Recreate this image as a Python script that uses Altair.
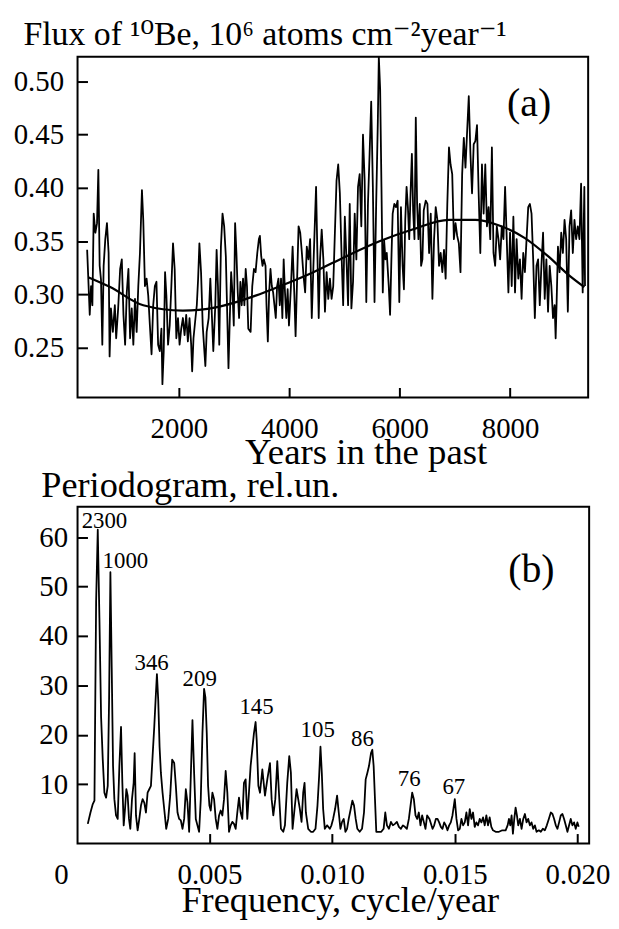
import altair as alt
import pandas as pd

FONT = "Liberation Serif"
TITLE_FONT = "Liberation Serif, DejaVu Serif"

# ---------------- panel (a): flux of 10Be ----------------
years_1 = [337, 384, 408, 432, 456, 486, 516, 540, 564, 588,
           612, 636, 666, 696, 726, 744, 768, 803, 839, 863,
           899, 935, 965, 995, 1025, 1055, 1085, 1115, 1145, 1174,
           1204, 1234, 1264, 1294, 1330, 1354, 1384, 1414, 1444, 1474,
           1504, 1534, 1564, 1593, 1623, 1653, 1683, 1701, 1725, 1749,
           1773, 1803, 1833, 1863, 1893, 1923, 1953, 1983, 2012, 2042,
           2072, 2102, 2132, 2162, 2192, 2222, 2240, 2264, 2300, 2324,
           2348, 2371, 2401, 2431, 2461, 2479, 2503, 2539, 2569, 2599,
           2623, 2659, 2683, 2707, 2731, 2761, 2790, 2820, 2850, 2880,
           2898, 2922, 2946, 2970, 2994, 3018, 3042, 3066, 3090, 3114,
           3138, 3162, 3186, 3210, 3233, 3257, 3299, 3329, 3359, 3389]
flux_1 = [0.342, 0.281, 0.308, 0.290, 0.376, 0.358, 0.367, 0.417, 0.327, 0.314,
          0.253, 0.327, 0.352, 0.367, 0.339, 0.242, 0.287, 0.265, 0.290, 0.259,
          0.287, 0.324, 0.333, 0.281, 0.253, 0.302, 0.324, 0.259, 0.287, 0.253,
          0.296, 0.265, 0.308, 0.339, 0.398, 0.370, 0.308, 0.315, 0.299, 0.271,
          0.244, 0.290, 0.308, 0.312, 0.253, 0.247, 0.268, 0.216, 0.247, 0.321,
          0.299, 0.253, 0.271, 0.308, 0.348, 0.324, 0.259, 0.278, 0.253, 0.268,
          0.278, 0.262, 0.281, 0.256, 0.278, 0.253, 0.228, 0.259, 0.278, 0.290,
          0.315, 0.348, 0.321, 0.271, 0.247, 0.233, 0.265, 0.278, 0.315, 0.278,
          0.247, 0.290, 0.342, 0.308, 0.253, 0.345, 0.376, 0.364, 0.336, 0.271,
          0.231, 0.278, 0.321, 0.302, 0.271, 0.367, 0.339, 0.302, 0.278, 0.312,
          0.290, 0.315, 0.290, 0.324, 0.308, 0.268, 0.265, 0.308, 0.324, 0.321]

years_2 = [3420, 3449, 3467, 3491, 3515, 3539, 3569, 3587, 3611, 3635,
           3659, 3683, 3707, 3731, 3755, 3779, 3803, 3827, 3850, 3874,
           3898, 3922, 3946, 3970, 3994, 4030, 4060, 4090, 4114, 4138,
           4168, 4198, 4228, 4257, 4287, 4317, 4347, 4377, 4407, 4437,
           4461, 4485, 4509, 4533, 4557, 4587, 4617, 4646, 4676, 4706,
           4736, 4766, 4796, 4826, 4856, 4886, 4916, 4946, 4976, 5006,
           5036, 5065, 5095, 5125, 5155, 5185, 5215, 5245, 5275, 5305,
           5335, 5365, 5395, 5425, 5455, 5484, 5514, 5544, 5574, 5604,
           5622, 5646, 5670, 5694, 5718, 5742, 5766, 5802, 5826, 5850,
           5873, 5903, 5933, 5963, 5993, 6023, 6053, 6077, 6101, 6125,
           6149, 6173, 6197, 6221, 6244, 6268, 6292, 6316, 6340, 6364,
           6388, 6412, 6436, 6472]
flux_2 = [0.339, 0.352, 0.355, 0.336, 0.327, 0.333, 0.327, 0.290, 0.256, 0.302,
          0.324, 0.308, 0.302, 0.290, 0.278, 0.308, 0.315, 0.290, 0.315, 0.278,
          0.333, 0.302, 0.278, 0.305, 0.271, 0.308, 0.345, 0.302, 0.261, 0.308,
          0.364, 0.358, 0.339, 0.318, 0.302, 0.345, 0.333, 0.352, 0.278, 0.327,
          0.364, 0.401, 0.339, 0.278, 0.333, 0.361, 0.333, 0.284, 0.321, 0.296,
          0.315, 0.296, 0.308, 0.358, 0.407, 0.422, 0.395, 0.339, 0.290, 0.373,
          0.333, 0.290, 0.385, 0.287, 0.312, 0.376, 0.333, 0.401, 0.413, 0.364,
          0.450, 0.407, 0.293, 0.385, 0.432, 0.481, 0.401, 0.293, 0.385, 0.462,
          0.523, 0.493, 0.401, 0.302, 0.351, 0.333, 0.339, 0.308, 0.281, 0.333,
          0.376, 0.385, 0.382, 0.388, 0.293, 0.382, 0.327, 0.305, 0.370, 0.401,
          0.382, 0.352, 0.395, 0.432, 0.379, 0.352, 0.466, 0.385, 0.352, 0.385,
          0.327, 0.333, 0.379, 0.388]

years_3 = [6503, 6533, 6563, 6593, 6623, 6653, 6683, 6713, 6743, 6773,
           6803, 6833, 6863, 6893, 6922, 6952, 6982, 7012, 7042, 7072,
           7102, 7132, 7162, 7192, 7222, 7252, 7282, 7311, 7341, 7371,
           7401, 7431, 7461, 7491, 7521, 7551, 7581, 7611, 7641, 7671,
           7700, 7730, 7760, 7790, 7820, 7850, 7880, 7910, 7940, 7970,
           8000, 8030, 8060, 8090, 8119, 8149, 8179, 8209, 8239, 8269,
           8299, 8329, 8359, 8389, 8419, 8449, 8479, 8508, 8538, 8568,
           8598, 8628, 8658, 8688, 8718, 8748, 8778, 8808, 8826, 8844,
           8868, 8897, 8927, 8957, 8987, 9017, 9047, 9077, 9107, 9137,
           9167, 9197, 9227, 9257, 9287, 9316, 9346, 9358]
flux_3 = [0.385, 0.339, 0.376, 0.296, 0.352, 0.382, 0.370, 0.327, 0.339, 0.321,
          0.342, 0.315, 0.385, 0.438, 0.422, 0.413, 0.352, 0.367, 0.355, 0.348,
          0.321, 0.413, 0.447, 0.419, 0.453, 0.486, 0.432, 0.395, 0.441, 0.444,
          0.459, 0.395, 0.339, 0.422, 0.376, 0.422, 0.364, 0.382, 0.352, 0.438,
          0.339, 0.327, 0.364, 0.352, 0.333, 0.364, 0.352, 0.401, 0.352, 0.302,
          0.358, 0.308, 0.373, 0.302, 0.352, 0.315, 0.333, 0.296, 0.339, 0.321,
          0.352, 0.382, 0.385, 0.376, 0.333, 0.278, 0.327, 0.333, 0.290, 0.327,
          0.358, 0.296, 0.333, 0.284, 0.327, 0.308, 0.278, 0.290, 0.259, 0.293,
          0.345, 0.321, 0.358, 0.339, 0.370, 0.352, 0.284, 0.364, 0.379, 0.339,
          0.370, 0.352, 0.364, 0.352, 0.404, 0.302, 0.401, 0.308]

trend_years = [366, 755, 1354, 2072, 2670, 3389, 3838, 4437, 5035, 5634,
               6232, 6893, 7372, 7790, 8269, 8688, 9047, 9347]
trend_flux = [0.316, 0.307, 0.290, 0.285, 0.288, 0.299, 0.308, 0.321, 0.336, 0.350,
              0.361, 0.370, 0.370, 0.365, 0.353, 0.336, 0.319, 0.307]

x_ticks_a = [2000, 4000, 6000, 8000]
y_ticks_a = [0.25, 0.30, 0.35, 0.40, 0.45, 0.50]
panel_a_tag = ["(a)"]
panel_a_tag_year = [8345]
panel_a_tag_flux = [0.4787]

# ---------------- panel (b): periodogram ----------------
freq_1 = [0.000044, 0.000153, 0.000247, 0.000315, 0.000383, 0.000450, 0.000518, 0.000586, 0.000654, 0.000721,
          0.000789, 0.000857, 0.000911, 0.000965, 0.001019, 0.001073, 0.001127, 0.001195, 0.001263, 0.001331,
          0.001398, 0.001452, 0.001507, 0.001561, 0.001615, 0.001669, 0.001723, 0.001777, 0.001845, 0.001913,
          0.001953, 0.002008, 0.002075, 0.002143, 0.002211, 0.002278, 0.002346, 0.002414, 0.002481, 0.002549,
          0.002617, 0.002685, 0.002752, 0.002806, 0.002861, 0.002915, 0.002969, 0.003023, 0.003091, 0.003158,
          0.003240, 0.003321, 0.003402, 0.003483, 0.003565, 0.003632, 0.003700, 0.003768, 0.003835, 0.003903,
          0.003971, 0.004039, 0.004106, 0.004174, 0.004242, 0.004309, 0.004377, 0.004445, 0.004512, 0.004580,
          0.004648, 0.004716, 0.004783, 0.004837, 0.004892, 0.004946, 0.005000, 0.005054, 0.005122, 0.005190,
          0.005257, 0.005325, 0.005393, 0.005460, 0.005528, 0.005596, 0.005663, 0.005731, 0.005799, 0.005867,
          0.005934, 0.006002, 0.006070, 0.006137, 0.006205, 0.006273, 0.006340, 0.006408, 0.006476, 0.006544,
          0.006611, 0.006679, 0.006747, 0.006814, 0.006882]
power_1 = [2.0, 4.3, 6.0, 6.7, 46.9, 61.5, 43.6, 23.6, 15.0, 8.3,
           7.3, 9.7, 27.0, 52.9, 33.6, 13.7, 7.0, 3.7, 3.0, 13.7,
           21.6, 10.3, 1.7, 5.0, 9.0, 7.7, 3.0, 1.0, 7.0, 10.3,
           16.3, 3.7, 0.7, 3.0, 5.7, 7.0, 6.3, 4.3, 8.3, 9.0,
           9.7, 15.7, 21.6, 27.0, 32.3, 27.0, 17.6, 12.3, 8.3, 5.0,
           1.0, 3.0, 7.7, 15.0, 14.3, 9.7, 4.3, 3.0, 2.7, 1.0,
           3.0, 9.0, 6.3, 0.4, 11.7, 23.0, 12.3, 3.0, 1.7, 0.4,
           7.0, 20.3, 29.3, 27.6, 20.3, 9.7, 5.7, 4.7, 8.3, 7.0,
           3.0, 1.0, 3.7, 4.7, 3.7, 7.0, 12.7, 8.3, 0.4, 1.7,
           2.4, 2.0, 1.0, 4.3, 7.3, 4.3, 3.0, 10.3, 11.0, 3.0,
           8.3, 13.7, 17.0, 20.3, 22.6]

freq_2 = [0.006927, 0.006995, 0.007062, 0.007157, 0.007265, 0.007360, 0.007468, 0.007536, 0.007604, 0.007685,
          0.007766, 0.007848, 0.007915, 0.008010, 0.008078, 0.008172, 0.008254, 0.008321, 0.008389, 0.008470,
          0.008552, 0.008619, 0.008687, 0.008755, 0.008822, 0.008877, 0.008931, 0.009026, 0.009134, 0.009229,
          0.009323, 0.009404, 0.009472, 0.009526, 0.009581, 0.009635, 0.009703, 0.009797, 0.009906, 0.009973,
          0.010041, 0.010122, 0.010203, 0.010271, 0.010339, 0.010406, 0.010474, 0.010542, 0.010610, 0.010677,
          0.010759, 0.010826, 0.010894, 0.010962, 0.011029, 0.011124, 0.011219, 0.011300, 0.011368, 0.011436,
          0.011503, 0.011585, 0.011639, 0.011693, 0.011747, 0.011801, 0.011910, 0.012004, 0.012099, 0.012167,
          0.012235, 0.012316, 0.012397, 0.012478, 0.012559, 0.012640, 0.012722, 0.012803, 0.012884, 0.012966,
          0.013047, 0.013128, 0.013196, 0.013264, 0.013331, 0.013399, 0.013467, 0.013534, 0.013602, 0.013670,
          0.013737, 0.013805, 0.013873, 0.013968]
power_2 = [19.0, 9.7, 8.3, 13.0, 7.7, 11.0, 14.3, 7.0, 3.7, 7.0,
           14.7, 7.0, 1.0, 0.4, 1.7, 10.3, 15.7, 12.3, 1.0, 5.0,
           9.0, 7.0, 5.0, 2.4, 8.3, 10.3, 4.3, 1.0, 0.4, 0.4,
           1.0, 5.7, 11.7, 17.6, 12.3, 5.0, 1.0, 1.7, 1.0, 1.7,
           3.0, 5.0, 7.7, 4.3, 1.0, 2.4, 3.0, 0.4, 1.0, 3.0,
           5.0, 6.7, 5.7, 3.0, 1.0, 0.4, 1.0, 4.3, 11.0, 12.3,
           13.7, 16.3, 17.0, 13.7, 7.0, 0.4, 0.4, 0.4, 1.0, 4.3,
           1.7, 1.0, 2.4, 1.7, 2.0, 2.4, 1.4, 1.0, 1.7, 1.4,
           1.0, 3.0, 5.7, 8.3, 7.0, 3.7, 3.0, 4.3, 1.7, 3.7,
           2.4, 1.0, 3.7, 3.0]

freq_3 = [0.014093, 0.014160, 0.014228, 0.014296, 0.014363, 0.014431, 0.014499, 0.014567, 0.014634, 0.014702,
          0.014770, 0.014837, 0.014905, 0.015000, 0.015068, 0.015135, 0.015203, 0.015271, 0.015338, 0.015406,
          0.015474, 0.015541, 0.015609, 0.015677, 0.015744, 0.015812, 0.015880, 0.015948, 0.016015, 0.016083,
          0.016151, 0.016218, 0.016286, 0.016354, 0.016421, 0.016489, 0.016557, 0.016665, 0.016801, 0.016936,
          0.017071, 0.017153, 0.017207, 0.017261, 0.017315, 0.017369, 0.017423, 0.017478, 0.017532, 0.017586,
          0.017654, 0.017721, 0.017789, 0.017857, 0.017924, 0.017992, 0.018060, 0.018127, 0.018195, 0.018263,
          0.018331, 0.018425, 0.018507, 0.018588, 0.018669, 0.018750, 0.018832, 0.018913, 0.018981, 0.019048,
          0.019116, 0.019184, 0.019251, 0.019319, 0.019387, 0.019454, 0.019522, 0.019590, 0.019658, 0.019725,
          0.019793, 0.019861, 0.019928, 0.019996, 0.020050]
power_3 = [1.0, 1.7, 3.0, 3.0, 2.3, 1.4, 1.0, 2.3, 1.7, 0.7,
           1.7, 2.3, 3.7, 7.0, 3.0, 0.7, 1.0, 3.0, 1.7, 2.3,
           4.3, 1.7, 5.0, 3.0, 4.3, 1.4, 2.3, 1.7, 3.0, 2.3,
           3.3, 1.7, 3.7, 1.7, 3.3, 1.4, 0.7, 0.4, 0.4, 0.7,
           0.7, 1.7, 3.0, 1.7, 3.7, 0.0, 3.0, 5.3, 3.7, 1.7,
           3.0, 1.0, 3.0, 4.0, 2.3, 3.0, 1.7, 2.3, 1.0, 1.7,
           0.4, 0.7, 0.4, 1.0, 0.7, 1.7, 3.0, 4.3, 4.0, 3.0,
           1.7, 1.0, 2.3, 3.7, 4.0, 3.0, 1.7, 0.4, 1.7, 3.0,
           1.7, 2.3, 1.0, 2.3, 1.4]

x_ticks_b = [0, 0.005, 0.010, 0.015, 0.020]
y_ticks_b = [10, 20, 30, 40, 50, 60]

peak_freq = [0.000723, 0.001576, 0.002644, 0.004606, 0.00692, 0.009415, 0.01124, 0.01314, 0.01496]
peak_power = [61.8, 53.7, 33.2, 29.9, 24.3, 19.6, 17.75, 9.6, 8.0]
peak_text = ["2300", "1000", "346", "209", "145", "105", "86", "76", "67"]
panel_b_tag = ["(b)"]
panel_b_tag_freq = [0.01812]
panel_b_tag_power = [53.4]

# ---------------- tables ----------------
df_a = pd.DataFrame({"year": years_1 + years_2 + years_3, "flux": flux_1 + flux_2 + flux_3})
df_trend = pd.DataFrame({"year": trend_years, "flux": trend_flux})
df_tag_a = pd.DataFrame({"year": panel_a_tag_year, "flux": panel_a_tag_flux, "t": panel_a_tag})

df_b = pd.DataFrame({"freq": freq_1 + freq_2 + freq_3, "power": power_1 + power_2 + power_3})
df_peaks = pd.DataFrame({"freq": peak_freq, "power": peak_power, "t": peak_text})
df_tag_b = pd.DataFrame({"freq": panel_b_tag_freq, "power": panel_b_tag_power, "t": panel_b_tag})


def make_axis(**kw):
    base = dict(offset=-10, tickSize=10, tickWidth=2, tickColor="black", domain=False, grid=False,
                labelFont=FONT, labelFontSize=29, labelColor="black", labelFlush=False,
                labelOverlap=False, titleFont=TITLE_FONT, titleFontWeight="normal", titleColor="black",
                titleAngle=0, titleBaseline="alphabetic")
    base.update(kw)
    return alt.Axis(**base)


xa = alt.X("year:Q",
           scale=alt.Scale(domain=[163, 9415], nice=False, zero=False),
           axis=make_axis(values=x_ticks_a, format="d", labelPadding=17,
                          title="Years in the past", titleFontSize=37,
                          titleX=290, titleY=76, titleAlign="center"))
ya = alt.Y("flux:Q",
           scale=alt.Scale(domain=[0.2035, 0.5231], nice=False, zero=False),
           axis=make_axis(values=y_ticks_a, format=".2f", labelPadding=14,
                          title="Flux of \u00b9\u2070Be, 10\u2076 atoms cm\u207b\u00b2year\u207b\u00b9",
                          titleFontSize=34, titleAlign="left", titleX=-65, titleY=-12))

line_a = alt.Chart(df_a).mark_line(color="black", strokeWidth=1.8, clip=True,
                                   strokeJoin="round").encode(x=xa, y=ya)
trend_a = alt.Chart(df_trend).mark_line(color="black", strokeWidth=2.2,
                                        interpolate="monotone").encode(x=xa, y=ya)
tag_a = alt.Chart(df_tag_a).mark_text(font=FONT, fontSize=40, align="center",
                                      baseline="middle", color="black").encode(
    x=xa, y=ya, text="t:N")

panel_a = alt.layer(line_a, trend_a, tag_a).properties(width=514, height=343)

xb = alt.X("freq:Q",
           scale=alt.Scale(domain=[-0.000374, 0.020475], nice=False, zero=False),
           axis=make_axis(values=x_ticks_b,
                          labelExpr="datum.value == 0 ? '0' : format(datum.value, '.3f')",
                          labelOffset={"condition": {"test": "datum.value == 0", "value": -26}, "value": 0},
                          tickOpacity={"condition": {"test": "datum.value == 0", "value": 0}, "value": 1},
                          labelPadding=17,
                          title="Frequency, cycle/year", titleFontSize=36.5,
                          titleX=264, titleY=78, titleAlign="center"))
yb = alt.Y("power:Q",
           scale=alt.Scale(domain=[-1.97, 66.15], nice=False, zero=False),
           axis=make_axis(values=y_ticks_b, format="d", labelPadding=10,
                          title="Periodogram, rel.un.", titleFontSize=36.5,
                          titleAlign="left", titleX=-47, titleY=-10))

line_b = alt.Chart(df_b).mark_line(color="black", strokeWidth=1.8, clip=True,
                                   strokeJoin="round").encode(x=xb, y=yb)
peaks_b = alt.Chart(df_peaks).mark_text(font=FONT, fontSize=23, align="center",
                                        baseline="alphabetic", color="black").encode(
    x=xb, y=yb, text="t:N")
tag_b = alt.Chart(df_tag_b).mark_text(font=FONT, fontSize=40, align="center",
                                      baseline="middle", color="black").encode(
    x=xb, y=yb, text="t:N")

panel_b = alt.layer(line_b, peaks_b, tag_b).properties(width=515, height=339)

chart = alt.vconcat(panel_a, panel_b, spacing=110, bounds="flush").properties(
    padding={"left": 4, "top": 6, "right": 0, "bottom": 0},
    background="white"
).configure_view(stroke="black", strokeWidth=2)

chart.save("out.html", embed_options={"renderer": "svg", "actions": False})
